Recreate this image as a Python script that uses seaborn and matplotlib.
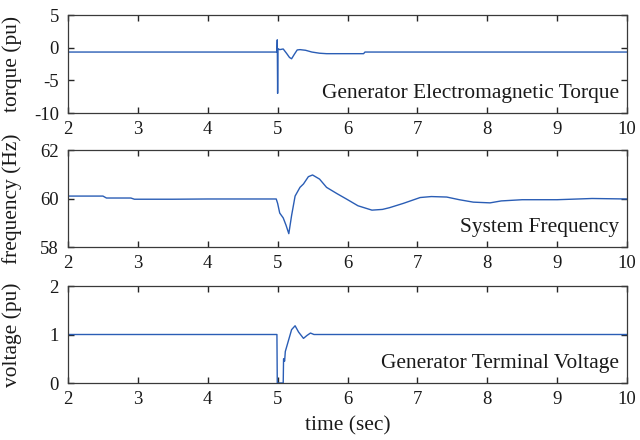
import matplotlib
matplotlib.use("Agg")
import matplotlib.pyplot as plt
import seaborn as sns
import pandas as pd

sns.set_theme(style="white")
plt.rcParams['font.family'] = ['Liberation Serif', 'DejaVu Serif']
plt.rcParams['axes.unicode_minus'] = False

# ---- data ----
t_torque = [2.0, 4.99, 4.995, 5.0, 5.005, 5.03, 5.08, 5.13, 5.17, 5.2, 5.24, 5.28, 5.32, 5.4, 5.49, 5.6, 5.7, 6.23, 6.25, 10.0]
torque = [-0.67, -0.67, 1.2, -7.0, -0.15, -0.3, -0.2, -0.9, -1.5, -1.7, -1.0, -0.35, -0.3, -0.4, -0.67, -0.85, -0.92, -0.92, -0.67, -0.67]

t_freq = [2.0, 2.5, 2.55, 2.9, 2.95, 3.5, 4.0, 4.5, 4.98, 5.0, 5.03, 5.08, 5.12, 5.16, 5.2, 5.25, 5.32, 5.37, 5.44, 5.5, 5.6, 5.7, 5.85, 5.99, 6.15, 6.35, 6.5, 6.6, 6.8, 7.04, 7.2, 7.42, 7.6, 7.8, 8.04, 8.2, 8.5, 9.0, 9.5, 10.0]
freq = [60.1, 60.1, 60.02, 60.02, 59.97, 59.97, 59.98, 59.98, 59.98, 59.8, 59.4, 59.2, 58.9, 58.55, 59.3, 60.1, 60.46, 60.6, 60.9, 60.97, 60.8, 60.46, 60.2, 59.97, 59.7, 59.52, 59.55, 59.62, 59.8, 60.04, 60.08, 60.06, 59.95, 59.85, 59.82, 59.9, 59.95, 59.95, 60.0, 59.98]

t_volt = [2.0, 4.99, 4.995, 5.08, 5.085, 5.1, 5.11, 5.13, 5.16, 5.2, 5.25, 5.3, 5.37, 5.42, 5.47, 5.52, 5.55, 10.0]
volt = [1.0, 1.0, 0.0, 0.0, 0.5, 0.45, 0.65, 0.75, 0.9, 1.1, 1.18, 1.05, 0.92, 0.98, 1.03, 1.0, 1.0, 1.0]

xticks = [2, 3, 4, 5, 6, 7, 8, 9, 10]

panels = [
    (t_torque, torque, (-10, 5), [-10, -5, 0, 5], "torque (pu)", "Generator Electromagnetic Torque"),
    (t_freq, freq, (58, 62), [58, 60, 62], "frequency (Hz)", "System Frequency"),
    (t_volt, volt, (0, 2), [0, 1, 2], "voltage (pu)", "Generator Terminal Voltage"),
]

W, H = 640, 440
fig = plt.figure(figsize=(6.4, 4.4), dpi=100)
boxes = [(15, 113), (150, 247), (286, 383)]
left, right = 68, 627
fs_lab = 15.4
fs_tick = 13.5
line_color = "#2a5db5"
txt_color = "#1a1a1a"
axes = []
for (top, bot), (tt, vv, ylim, yticks, ylabel, title) in zip(boxes, panels):
    ax = fig.add_axes([left / W, 1 - bot / H, (right - left) / W, (bot - top) / H])
    df = pd.DataFrame({"t": tt, "v": vv})
    sns.lineplot(data=df, x="t", y="v", ax=ax, color=line_color, linewidth=1.0,
                 estimator=None, sort=False)
    ax.set_xlim(2, 10)
    ax.set_ylim(*ylim)
    ax.set_xticks(xticks)
    ax.set_yticks(yticks)
    ax.tick_params(axis="both", which="major", direction="in", bottom=True, left=True,
                   top=True, right=True, length=4.5, width=1.0, color="#262626",
                   labelsize=fs_tick, labelcolor=txt_color)
    ax.tick_params(axis="x", pad=5.5)
    ax.tick_params(axis="y", pad=6.5)
    for s in ax.spines.values():
        s.set_color("#3a3a3a")
        s.set_linewidth(0.9)
    ax.set_ylabel(ylabel, fontsize=fs_lab, color=txt_color)
    ax.yaxis.set_label_coords((22 - left) / (right - left), 0.5)
    ax.set_xlabel("")
    ax.annotate(title, xy=(1, 0), xycoords="axes fraction", xytext=(-5.8, 10.8),
                textcoords="offset points", ha="right", va="baseline",
                fontsize=fs_lab, color=txt_color)
    axes.append(ax)
axes[-1].set_xlabel("time (sec)", fontsize=fs_lab, color=txt_color, labelpad=6)

fig.savefig("out.png", dpi=100)
